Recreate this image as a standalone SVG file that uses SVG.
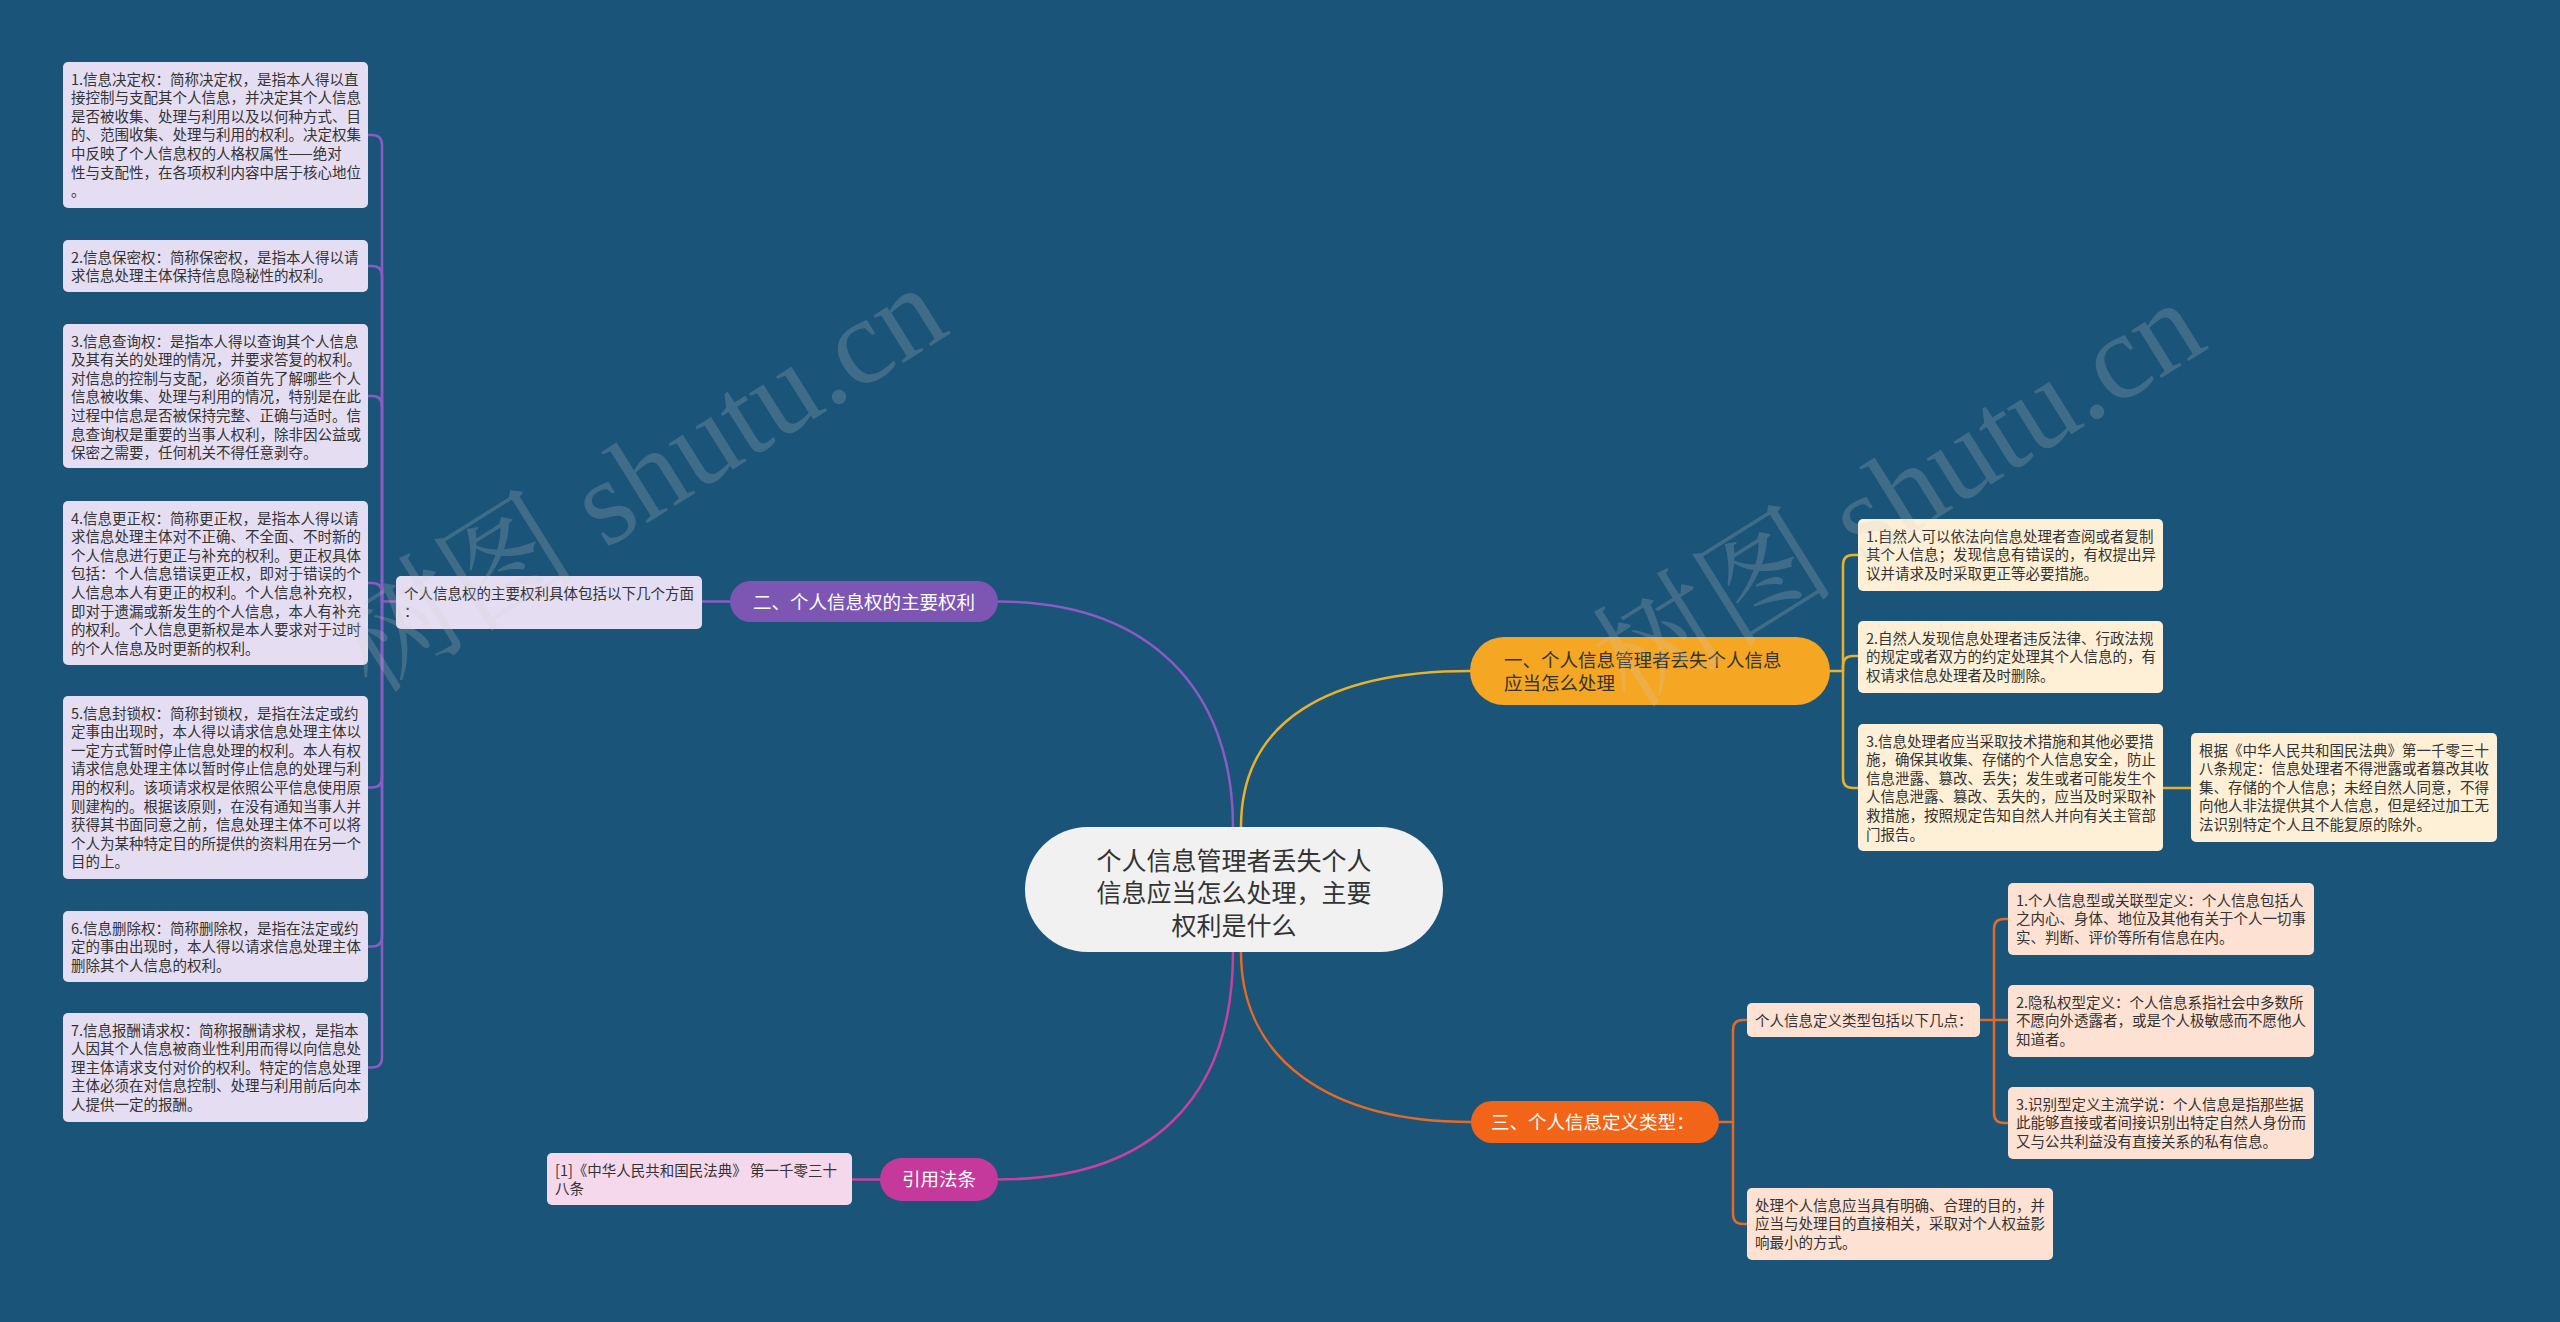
<svg xmlns="http://www.w3.org/2000/svg" width="2560" height="1322" viewBox="0 0 2560 1322">
<style>
text{font-family:"Noto Sans CJK SC","Noto Sans",sans-serif;}
.t{font-size:14.5px;fill:#333;}
.b{font-size:18.5px;}
.w{fill:#fff;}
.d{fill:#333;}
.c{font-size:25px;fill:#333;}
.lp{fill:#e5def2;}
.op{fill:#fdf0d6;}
.rp{fill:#fde1d2;}
.mp{fill:#f6d8ec;}
.ln{fill:none;stroke-width:2.5;stroke-linecap:round;}
.pl{stroke:#8a5cc2;}
.ol{stroke:#e9b12c;}
.rl{stroke:#e36a27;}
.ml{stroke:#c6429e;}
.wm{font-family:"Liberation Serif","Noto Serif CJK SC","Noto Sans CJK SC",serif;font-size:122px;fill:#cfcfcf;opacity:0.2;}
</style>
<rect x="0" y="0" width="2560" height="1322" fill="#1a5478"/>

<g id="connectors">
  <path class="ln pl" d="M1233,827 C1233,690 1150,601.5 998,601.5"/>
  <path class="ln ol" d="M1241,827 C1241,720 1330,671 1470,671"/>
  <path class="ln rl" d="M1241,952 C1241,1060 1330,1122 1471,1122"/>
  <path class="ln ml" d="M1233,952 C1233,1100 1150,1179.5 998,1179.5"/>
  <path class="ln pl" d="M730,601.5 H702"/>
  <path class="ln pl" d="M396,601.5 H382"/>
  <path class="ln pl" d="M382,601.5 V145 Q382,135 372,135 H368"/>
  <path class="ln pl" d="M382,601.5 V276 Q382,266 372,266 H368"/>
  <path class="ln pl" d="M382,601.5 V406 Q382,396 372,396 H368"/>
  <path class="ln pl" d="M382,601.5 V593 Q382,583 372,583 H368"/>
  <path class="ln pl" d="M382,601.5 V777.5 Q382,787.5 372,787.5 H368"/>
  <path class="ln pl" d="M382,601.5 V936.5 Q382,946.5 372,946.5 H368"/>
  <path class="ln pl" d="M382,601.5 V1057.5 Q382,1067.5 372,1067.5 H368"/>
  <path class="ln ml" d="M880,1179.5 H852"/>
  <path class="ln ol" d="M1830,671 H1843"/>
  <path class="ln ol" d="M1843,671 V565 Q1843,555 1853,555 H1858"/>
  <path class="ln ol" d="M1843,671 V666 Q1843,656 1853,656 H1858"/>
  <path class="ln ol" d="M1843,671 V778 Q1843,788 1853,788 H1858"/>
  <path class="ln ol" d="M2163,788 H2191"/>
  <path class="ln rl" d="M1719,1122 H1733"/>
  <path class="ln rl" d="M1733,1122 V1030 Q1733,1020 1743,1020 H1747"/>
  <path class="ln rl" d="M1733,1122 V1214 Q1733,1224 1743,1224 H1747"/>
  <path class="ln rl" d="M1980,1020 H2008"/>
  <path class="ln rl" d="M1994,1020 V929 Q1994,919 2004,919 H2008"/>
  <path class="ln rl" d="M1994,1020 V1113 Q1994,1123 2004,1123 H2008"/>
</g>

<g id="center">
  <rect x="1025" y="827" width="418" height="125" rx="62.5" fill="#f1f1f1"/>
  <text class="c" text-anchor="middle"><tspan x="1234" y="869.5">个人信息管理者丢失个人</tspan><tspan x="1234" y="902">信息应当怎么处理，主要</tspan><tspan x="1234" y="935">权利是什么</tspan></text>
</g>

<g id="branch-purple">
  <rect x="730" y="581" width="268" height="41" rx="20.5" fill="#7d56b4"/>
  <text class="b w" x="864" y="608.5" text-anchor="middle">二、个人信息权的主要权利</text>
</g>
<g id="purple-parent">
  <rect class="lp" x="396" y="576" width="306" height="53" rx="5"/>
  <text class="t"><tspan x="404" y="598.5">个人信息权的主要权利具体包括以下几个方面</tspan><tspan x="404" y="617.1">：</tspan></text>
</g>
<g id="p1">
  <rect class="lp" x="63" y="62" width="305" height="146" rx="5"/>
  <text class="t"><tspan x="71" y="84.5">1.信息决定权：简称决定权，是指本人得以直</tspan><tspan x="71" dy="18.6">接控制与支配其个人信息，并决定其个人信息</tspan><tspan x="71" dy="18.6">是否被收集、处理与利用以及以何种方式、目</tspan><tspan x="71" dy="18.6">的、范围收集、处理与利用的权利。决定权集</tspan><tspan x="71" dy="18.6">中反映了个人信息权的人格权属性——绝对</tspan><tspan x="71" dy="18.6">性与支配性，在各项权利内容中居于核心地位</tspan><tspan x="71" dy="18.6">。</tspan></text>
</g>
<g id="p2">
  <rect class="lp" x="63" y="240" width="305" height="52" rx="5"/>
  <text class="t"><tspan x="71" y="262.5">2.信息保密权：简称保密权，是指本人得以请</tspan><tspan x="71" dy="18.6">求信息处理主体保持信息隐秘性的权利。</tspan></text>
</g>
<g id="p3">
  <rect class="lp" x="63" y="324" width="305" height="144" rx="5"/>
  <text class="t"><tspan x="71" y="346.5">3.信息查询权：是指本人得以查询其个人信息</tspan><tspan x="71" dy="18.6">及其有关的处理的情况，并要求答复的权利。</tspan><tspan x="71" dy="18.6">对信息的控制与支配，必须首先了解哪些个人</tspan><tspan x="71" dy="18.6">信息被收集、处理与利用的情况，特别是在此</tspan><tspan x="71" dy="18.6">过程中信息是否被保持完整、正确与适时。信</tspan><tspan x="71" dy="18.6">息查询权是重要的当事人权利，除非因公益或</tspan><tspan x="71" dy="18.6">保密之需要，任何机关不得任意剥夺。</tspan></text>
</g>
<g id="p4">
  <rect class="lp" x="63" y="501" width="305" height="164" rx="5"/>
  <text class="t"><tspan x="71" y="523.5">4.信息更正权：简称更正权，是指本人得以请</tspan><tspan x="71" dy="18.6">求信息处理主体对不正确、不全面、不时新的</tspan><tspan x="71" dy="18.6">个人信息进行更正与补充的权利。更正权具体</tspan><tspan x="71" dy="18.6">包括：个人信息错误更正权，即对于错误的个</tspan><tspan x="71" dy="18.6">人信息本人有更正的权利。个人信息补充权，</tspan><tspan x="71" dy="18.6">即对于遗漏或新发生的个人信息，本人有补充</tspan><tspan x="71" dy="18.6">的权利。个人信息更新权是本人要求对于过时</tspan><tspan x="71" dy="18.6">的个人信息及时更新的权利。</tspan></text>
</g>
<g id="p5">
  <rect class="lp" x="63" y="696" width="305" height="183" rx="5"/>
  <text class="t"><tspan x="71" y="718.5">5.信息封锁权：简称封锁权，是指在法定或约</tspan><tspan x="71" dy="18.6">定事由出现时，本人得以请求信息处理主体以</tspan><tspan x="71" dy="18.6">一定方式暂时停止信息处理的权利。本人有权</tspan><tspan x="71" dy="18.6">请求信息处理主体以暂时停止信息的处理与利</tspan><tspan x="71" dy="18.6">用的权利。该项请求权是依照公平信息使用原</tspan><tspan x="71" dy="18.6">则建构的。根据该原则，在没有通知当事人并</tspan><tspan x="71" dy="18.6">获得其书面同意之前，信息处理主体不可以将</tspan><tspan x="71" dy="18.6">个人为某种特定目的所提供的资料用在另一个</tspan><tspan x="71" dy="18.6">目的上。</tspan></text>
</g>
<g id="p6">
  <rect class="lp" x="63" y="911" width="305" height="71" rx="5"/>
  <text class="t"><tspan x="71" y="933.5">6.信息删除权：简称删除权，是指在法定或约</tspan><tspan x="71" dy="18.6">定的事由出现时，本人得以请求信息处理主体</tspan><tspan x="71" dy="18.6">删除其个人信息的权利。</tspan></text>
</g>
<g id="p7">
  <rect class="lp" x="63" y="1013" width="305" height="109" rx="5"/>
  <text class="t"><tspan x="71" y="1035.5">7.信息报酬请求权：简称报酬请求权，是指本</tspan><tspan x="71" dy="18.6">人因其个人信息被商业性利用而得以向信息处</tspan><tspan x="71" dy="18.6">理主体请求支付对价的权利。特定的信息处理</tspan><tspan x="71" dy="18.6">主体必须在对信息控制、处理与利用前后向本</tspan><tspan x="71" dy="18.6">人提供一定的报酬。</tspan></text>
</g>

<g id="branch-magenta">
  <rect x="880" y="1158" width="118" height="43" rx="21.5" fill="#c4399b"/>
  <text class="b w" x="939" y="1186" text-anchor="middle">引用法条</text>
</g>
<g id="citation">
  <rect class="mp" x="547" y="1153" width="305" height="52" rx="5"/>
  <text class="t"><tspan x="555" y="1175.5">[1]《中华人民共和国民法典》 第一千零三十</tspan><tspan x="555" dy="18.6">八条</tspan></text>
</g>

<g id="branch-orange">
  <rect x="1470" y="637" width="360" height="68" rx="34" fill="#f5a623"/>
  <text class="b d"><tspan x="1504" y="667">一、个人信息管理者丢失个人信息</tspan><tspan x="1504" y="690">应当怎么处理</tspan></text>
</g>
<g id="o1">
  <rect class="op" x="1858" y="519" width="305" height="72" rx="5"/>
  <text class="t"><tspan x="1866" y="541.5">1.自然人可以依法向信息处理者查阅或者复制</tspan><tspan x="1866" dy="18.6">其个人信息；发现信息有错误的，有权提出异</tspan><tspan x="1866" dy="18.6">议并请求及时采取更正等必要措施。</tspan></text>
</g>
<g id="o2">
  <rect class="op" x="1858" y="621" width="305" height="72" rx="5"/>
  <text class="t"><tspan x="1866" y="643.5">2.自然人发现信息处理者违反法律、行政法规</tspan><tspan x="1866" dy="18.6">的规定或者双方的约定处理其个人信息的，有</tspan><tspan x="1866" dy="18.6">权请求信息处理者及时删除。</tspan></text>
</g>
<g id="o3">
  <rect class="op" x="1858" y="724" width="305" height="127" rx="5"/>
  <text class="t"><tspan x="1866" y="746.5">3.信息处理者应当采取技术措施和其他必要措</tspan><tspan x="1866" dy="18.6">施，确保其收集、存储的个人信息安全，防止</tspan><tspan x="1866" dy="18.6">信息泄露、篡改、丢失；发生或者可能发生个</tspan><tspan x="1866" dy="18.6">人信息泄露、篡改、丢失的，应当及时采取补</tspan><tspan x="1866" dy="18.6">救措施，按照规定告知自然人并向有关主管部</tspan><tspan x="1866" dy="18.6">门报告。</tspan></text>
</g>
<g id="o3a">
  <rect class="op" x="2191" y="733" width="306" height="109" rx="5"/>
  <text class="t"><tspan x="2199" y="755.5">根据《中华人民共和国民法典》第一千零三十</tspan><tspan x="2199" dy="18.6">八条规定：信息处理者不得泄露或者篡改其收</tspan><tspan x="2199" dy="18.6">集、存储的个人信息；未经自然人同意，不得</tspan><tspan x="2199" dy="18.6">向他人非法提供其个人信息，但是经过加工无</tspan><tspan x="2199" dy="18.6">法识别特定个人且不能复原的除外。</tspan></text>
</g>

<g id="branch-red">
  <rect x="1471" y="1101" width="248" height="42" rx="21" fill="#f26418"/>
  <text class="b w" x="1491" y="1129">三、个人信息定义类型：</text>
</g>
<g id="r0">
  <rect class="rp" x="1747" y="1003" width="233" height="34" rx="5"/>
  <text class="t" x="1755" y="1025.5">个人信息定义类型包括以下几点：</text>
</g>
<g id="r1">
  <rect class="rp" x="2008" y="883" width="306" height="72" rx="5"/>
  <text class="t"><tspan x="2016" y="905.5">1.个人信息型或关联型定义：个人信息包括人</tspan><tspan x="2016" dy="18.6">之内心、身体、地位及其他有关于个人一切事</tspan><tspan x="2016" dy="18.6">实、判断、评价等所有信息在内。</tspan></text>
</g>
<g id="r2">
  <rect class="rp" x="2008" y="985" width="306" height="72" rx="5"/>
  <text class="t"><tspan x="2016" y="1007.5">2.隐私权型定义：个人信息系指社会中多数所</tspan><tspan x="2016" dy="18.6">不愿向外透露者，或是个人极敏感而不愿他人</tspan><tspan x="2016" dy="18.6">知道者。</tspan></text>
</g>
<g id="r3">
  <rect class="rp" x="2008" y="1087" width="306" height="72" rx="5"/>
  <text class="t"><tspan x="2016" y="1109.5">3.识别型定义主流学说：个人信息是指那些据</tspan><tspan x="2016" dy="18.6">此能够直接或者间接识别出特定自然人身份而</tspan><tspan x="2016" dy="18.6">又与公共利益没有直接关系的私有信息。</tspan></text>
</g>
<g id="r4">
  <rect class="rp" x="1747" y="1188" width="306" height="72" rx="5"/>
  <text class="t"><tspan x="1755" y="1210.5">处理个人信息应当具有明确、合理的目的，并</tspan><tspan x="1755" dy="18.6">应当与处理目的直接相关，采取对个人权益影</tspan><tspan x="1755" dy="18.6">响最小的方式。</tspan></text>
</g>

<g id="watermark">
  <text class="wm" x="372" y="695" transform="rotate(-32 372 695)">树图 shutu.cn</text>
  <text class="wm" x="1630" y="710" transform="rotate(-32 1630 710)">树图 shutu.cn</text>
</g>
</svg>
